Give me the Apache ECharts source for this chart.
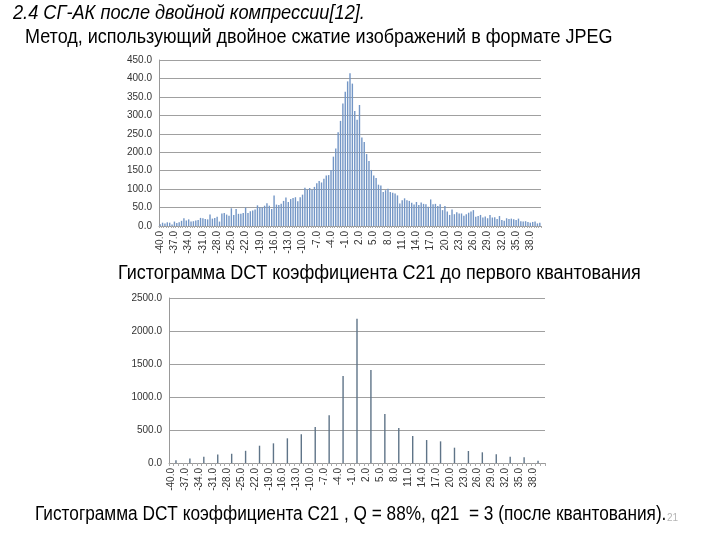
<!DOCTYPE html>
<html><head><meta charset="utf-8">
<script src="https://cdn.jsdelivr.net/npm/echarts@6/dist/echarts.min.js"></script>
<style>html,body{margin:0;padding:0;background:#fff}#c{width:720px;height:540px}</style>
</head><body><div id="c"></div>
<script>
// Top histogram: bins from -40 to 40 step 0.5
const topStart = -40, topEnd = 40, topStep = 0.5;
const topValues = [
  5, 9, 7, 10, 9, 4, 12, 8, 10, 14, 21, 15, 18, 12, 13, 15, 16, 22, 21, 19,
  18, 31, 20, 22, 25, 12, 34, 35, 31, 28, 48, 30, 46, 33,
  33, 35, 50, 35, 40, 42, 45, 56, 51, 50, 55, 62, 55, 46, 83, 58, 57, 60, 68, 77,
  65, 73, 76, 78, 67, 78,
  85, 104, 99, 103, 98, 106, 116, 122, 118, 128, 137, 138, 152, 188, 210, 254, 285,
  332, 364, 392, 414, 386, 312, 288, 328, 240, 228, 195, 176, 152, 137, 130, 112,
  110, 92, 97, 101, 92, 90, 88, 83, 61, 70, 75, 70, 68, 63, 58, 65, 57, 64, 60, 59,
  52, 72, 59, 60, 54, 59, 43, 54, 39, 30, 45, 32, 37, 34, 34, 28, 32, 36, 39, 43,
  25, 27, 30, 23, 26, 21, 30, 23, 24, 19, 27, 16, 14, 21, 19, 20, 18, 16, 20, 13,
  12, 13, 11, 9, 11, 12, 7, 9
];
// Bottom histogram: quantized values (multiples of q21 = 3)
const bottomStart = -40, bottomEnd = 40;
const bottomBins = [-39,-36,-33,-30,-27,-24,-21,-18,-15,-12,-9,-6,-3,0,3,6,9,12,15,18,21,24,27,30,33,36,39];
const bottomCounts = [40,70,95,130,140,185,262,298,374,435,545,722,1318,2186,1409,742,530,409,348,328,232,182,162,132,95,86,35];

const titleLine1 = '2.4 СГ-АК после двойной компрессии[12].';
const titleLine2 = 'Метод, использующий двойное сжатие изображений в формате JPEG';
const caption1 = 'Гистограмма DCT коэффициента C21 до первого квантования';
const caption2 = 'Гистограмма DCT коэффициента C21 , Q = 88%, q21  = 3 (после квантования).';
const pageNo = '21';

const topCats = [];
for (let i = 0; topStart + i * topStep <= topEnd; i++) topCats.push((topStart + i * topStep).toFixed(1));
const bottomCats = [];
for (let v = bottomStart; v <= bottomEnd; v++) bottomCats.push(v.toFixed(1));
const bottomData = bottomCats.map(c => {
  const k = bottomBins.indexOf(Math.round(parseFloat(c)));
  return k >= 0 ? bottomCounts[k] : 0;
});

const FONT = "'Liberation Sans', Arial, sans-serif";
const labelStyle = { color: '#333', fontSize: 10, fontFamily: FONT };
const chart = echarts.init(document.getElementById('c'));
function txt(x, y, text, font, fill, sx) {
  return { type: 'text', x: x, y: y, scaleX: sx, scaleY: 1,
    style: { text: text, font: font, fill: fill, textVerticalAlign: 'middle', textBaseline: 'middle' } };
}
chart.setOption({
  backgroundColor: '#fff',
  animation: false,
  grid: [
    { left: 159, right: 179, top: 60, bottom: 314 },
    { left: 169, right: 175, top: 298, bottom: 77 }
  ],
  xAxis: [
    { type: 'category', gridIndex: 0, data: topCats, boundaryGap: true,
      axisLine: { lineStyle: { color: '#999', width: 1 } },
      axisTick: { show: true, interval: 0, length: 2, lineStyle: { color: '#aaa' } },
      axisLabel: { ...labelStyle, rotate: 90, interval: 5, margin: 5 } },
    { type: 'category', gridIndex: 1, data: bottomCats, boundaryGap: true,
      axisLine: { lineStyle: { color: '#999', width: 1 } },
      axisTick: { show: true, interval: 0, length: 3, lineStyle: { color: '#aaa' } },
      axisLabel: { ...labelStyle, rotate: 90, interval: 2, margin: 5 } }
  ],
  yAxis: [
    { type: 'value', gridIndex: 0, min: 0, max: 450, interval: 50,
      axisLine: { show: true, lineStyle: { color: '#999' } }, axisTick: { show: false },
      splitLine: { lineStyle: { color: '#a0a0a0', width: 1 } },
      axisLabel: { ...labelStyle, margin: 7, formatter: v => v.toFixed(1) } },
    { type: 'value', gridIndex: 1, min: 0, max: 2500, interval: 500,
      axisLine: { show: true, lineStyle: { color: '#999' } }, axisTick: { show: false },
      splitLine: { lineStyle: { color: '#a0a0a0', width: 1 } },
      axisLabel: { ...labelStyle, margin: 7, formatter: v => v.toFixed(1) } }
  ],
  series: [
    { type: 'bar', xAxisIndex: 0, yAxisIndex: 0, data: topValues, barWidth: 1.4,
      itemStyle: { color: '#7396c6' } },
    { type: 'bar', xAxisIndex: 1, yAxisIndex: 1, data: bottomData, barWidth: 1.4,
      itemStyle: { color: '#5f7488' } }
  ],
  graphic: [
    txt(13, 13, titleLine1, 'italic 20px ' + FONT, '#000', 0.91),
    txt(25, 37, titleLine2, '20px ' + FONT, '#000', 0.9),
    txt(118, 273, caption1, '20px ' + FONT, '#000', 0.9),
    txt(35, 514, caption2, '20px ' + FONT, '#000', 0.862),
    txt(667, 518, pageNo, '10px ' + FONT, '#b5b5b5', 1)
  ]
});
</script>
</body></html>
